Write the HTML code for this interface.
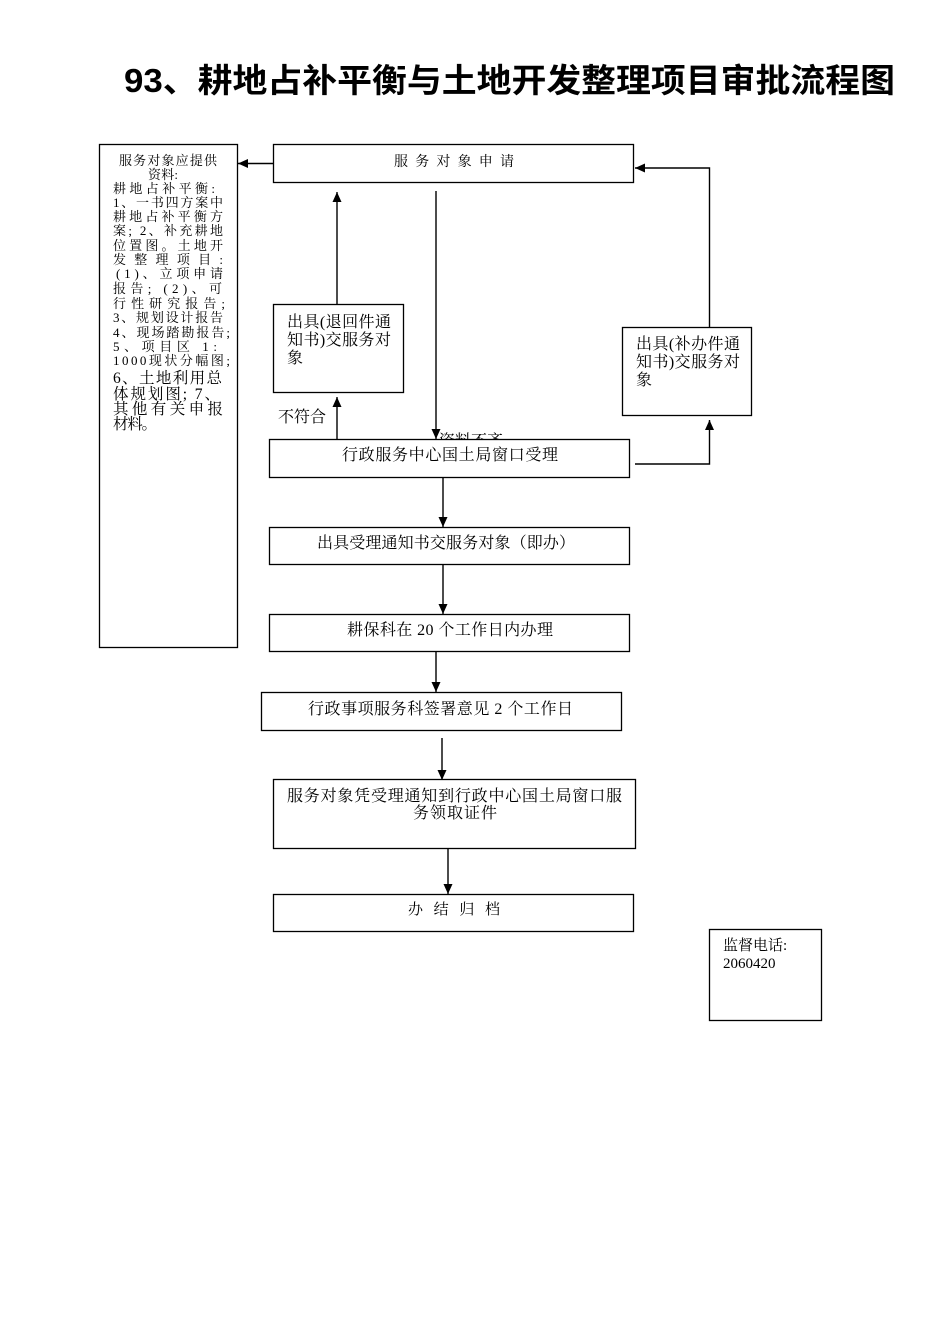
<!DOCTYPE html>
<html>
<head>
<meta charset="utf-8">
<style>
  html,body{margin:0;padding:0;background:#fff;}
  body{width:950px;height:1344px;overflow:hidden;}
  svg{display:block;}
  .s{font-family:"Liberation Serif","Noto Serif CJK SC",serif;fill:#000;}
  .t{font-family:"Liberation Sans","Noto Sans CJK SC",sans-serif;font-weight:bold;fill:#000;}
</style>
</head>
<body>
<svg width="950" height="1344" viewBox="0 0 950 1344" xmlns="http://www.w3.org/2000/svg">
  <defs>
    <marker id="ah" markerWidth="12" markerHeight="12" refX="10" refY="4.5" orient="auto" markerUnits="userSpaceOnUse">
      <path d="M0,0 L10,4.5 L0,9 Z" fill="#000"/>
    </marker>
  </defs>

  <!-- Title -->
  <text class="t" x="124" y="92" font-size="33" textLength="771" lengthAdjust="spacingAndGlyphs">93、耕地占补平衡与土地开发整理项目审批流程图</text>

  <!-- Left info panel -->
  <rect x="99.5" y="144.5" width="138" height="503" fill="#fff" stroke="#000" stroke-width="1.3"/>
  <g class="s" font-size="13">
    <text x="119" y="165" textLength="98" lengthAdjust="spacing">服务对象应提供</text>
    <text x="148" y="179" textLength="30" lengthAdjust="spacing">资料:</text>
    <text x="113" y="193" textLength="102" lengthAdjust="spacing">耕地占补平衡:</text>
    <text x="113" y="207" textLength="110" lengthAdjust="spacing">1、一书四方案中</text>
    <text x="113" y="221" textLength="110" lengthAdjust="spacing">耕地占补平衡方</text>
    <text x="113" y="235" textLength="110" lengthAdjust="spacing">案; 2、补充耕地</text>
    <text x="113" y="250" textLength="110" lengthAdjust="spacing">位置图。土地开</text>
    <text x="113" y="264" textLength="110" lengthAdjust="spacing">发整理项目:</text>
    <text x="116" y="278" textLength="107" lengthAdjust="spacing">(1)、立项申请</text>
    <text x="113" y="293" textLength="109" lengthAdjust="spacing">报告; (2)、可</text>
    <text x="113" y="308" textLength="112" lengthAdjust="spacing">行性研究报告;</text>
    <text x="113" y="322" textLength="110" lengthAdjust="spacing">3、规划设计报告</text>
    <text x="113" y="337" textLength="117" lengthAdjust="spacing">4、现场踏勘报告;</text>
    <text x="113" y="351" textLength="104" lengthAdjust="spacing">5、项目区 1:</text>
    <text x="113" y="365" textLength="117" lengthAdjust="spacing">1000现状分幅图;</text>
  </g>
  <g class="s" font-size="15.5">
    <text x="113" y="383" textLength="109" lengthAdjust="spacing">6、土地利用总</text>
    <text x="113" y="399" textLength="107" lengthAdjust="spacing">体规划图; 7、</text>
    <text x="113" y="414" textLength="110" lengthAdjust="spacing">其他有关申报</text>
    <text x="113" y="429" textLength="44" lengthAdjust="spacing">材料。</text>
  </g>

  <!-- Connectors -->
  <g stroke="#000" stroke-width="1.4" fill="none">
    <line x1="273" y1="163.5" x2="238" y2="163.5" marker-end="url(#ah)"/>
    <line x1="337" y1="304" x2="337" y2="192" marker-end="url(#ah)"/>
    <line x1="436" y1="191" x2="436" y2="439" marker-end="url(#ah)"/>
    <line x1="337" y1="439" x2="337" y2="397" marker-end="url(#ah)"/>
    <polyline points="635,464 709.5,464 709.5,420" marker-end="url(#ah)"/>
    <polyline points="709.5,327 709.5,168 635,168" marker-end="url(#ah)"/>
    <line x1="443" y1="478" x2="443" y2="527" marker-end="url(#ah)"/>
    <line x1="443" y1="565" x2="443" y2="614" marker-end="url(#ah)"/>
    <line x1="436" y1="652" x2="436" y2="692" marker-end="url(#ah)"/>
    <line x1="442" y1="738" x2="442" y2="780" marker-end="url(#ah)"/>
    <line x1="448" y1="849" x2="448" y2="894" marker-end="url(#ah)"/>
  </g>

  <!-- clipped label behind box -->
  <text class="s" x="439" y="446" font-size="16">资料不齐</text>

  <!-- Top box -->
  <rect x="273.5" y="144.5" width="360" height="38" fill="#fff" stroke="#000" stroke-width="1.3"/>
  <text class="s" x="394" y="166" font-size="14" textLength="120" lengthAdjust="spacing">服务对象申请</text>

  <!-- Left return box -->
  <rect x="273.5" y="304.5" width="130" height="88" fill="#fff" stroke="#000" stroke-width="1.3"/>
  <g class="s" font-size="16">
    <text x="287" y="327" textLength="104" lengthAdjust="spacing">出具(退回件通</text>
    <text x="287" y="345" textLength="104" lengthAdjust="spacing">知书)交服务对</text>
    <text x="287" y="363">象</text>
  </g>
  <text class="s" x="278" y="422" font-size="16">不符合</text>

  <!-- Right supplementary box -->
  <rect x="622.5" y="327.5" width="129" height="88" fill="#fff" stroke="#000" stroke-width="1.3"/>
  <g class="s" font-size="16">
    <text x="636" y="349" textLength="104" lengthAdjust="spacing">出具(补办件通</text>
    <text x="636" y="367" textLength="104" lengthAdjust="spacing">知书)交服务对</text>
    <text x="636" y="385">象</text>
  </g>

  <!-- 行政服务中心 box -->
  <rect x="269.5" y="439.5" width="360" height="38" fill="#fff" stroke="#000" stroke-width="1.3"/>
  <text class="s" x="342" y="460" font-size="16" textLength="216" lengthAdjust="spacing">行政服务中心国土局窗口受理</text>

  <!-- 出具受理 box -->
  <rect x="269.5" y="527.5" width="360" height="37" fill="#fff" stroke="#000" stroke-width="1.3"/>
  <text class="s" x="317" y="548" font-size="16" textLength="258" lengthAdjust="spacing">出具受理通知书交服务对象（即办）</text>

  <!-- 耕保科 box -->
  <rect x="269.5" y="614.5" width="360" height="37" fill="#fff" stroke="#000" stroke-width="1.3"/>
  <text class="s" x="347" y="635" font-size="16" textLength="206" lengthAdjust="spacing">耕保科在 20 个工作日内办理</text>

  <!-- 行政事项 box -->
  <rect x="261.5" y="692.5" width="360" height="38" fill="#fff" stroke="#000" stroke-width="1.3"/>
  <text class="s" x="308" y="714" font-size="16" textLength="265" lengthAdjust="spacing">行政事项服务科签署意见 2 个工作日</text>

  <!-- 服务对象凭 box -->
  <rect x="273.5" y="779.5" width="362" height="69" fill="#fff" stroke="#000" stroke-width="1.3"/>
  <g class="s" font-size="16">
    <text x="287" y="801" textLength="335" lengthAdjust="spacing">服务对象凭受理通知到行政中心国土局窗口服</text>
    <text x="413" y="818" textLength="84" lengthAdjust="spacing">务领取证件</text>
  </g>

  <!-- 办结归档 box -->
  <rect x="273.5" y="894.5" width="360" height="37" fill="#fff" stroke="#000" stroke-width="1.3"/>
  <text class="s" x="408" y="914" font-size="15" textLength="92" lengthAdjust="spacing">办结归档</text>

  <!-- 监督电话 box -->
  <rect x="709.5" y="929.5" width="112" height="91" fill="#fff" stroke="#000" stroke-width="1.3"/>
  <g class="s" font-size="15">
    <text x="723" y="950">监督电话:</text>
    <text x="723" y="968">2060420</text>
  </g>
</svg>
</body>
</html>
